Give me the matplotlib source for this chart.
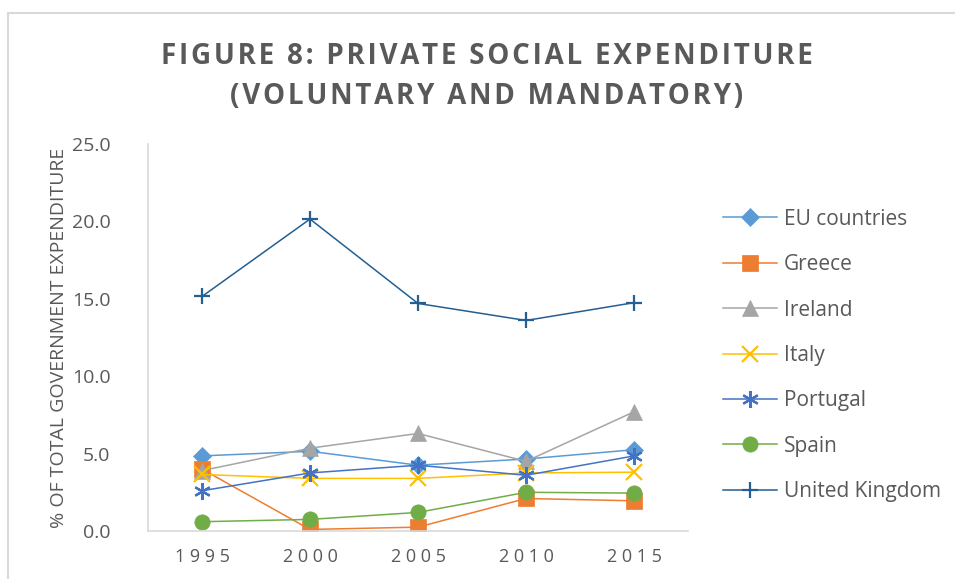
import numpy as np
import matplotlib
matplotlib.use('Agg')
import matplotlib.pyplot as plt
from matplotlib.patches import Rectangle

# data
years = ['1995', '2000', '2005', '2010', '2015']
eu = [4.85, 5.15, 4.25, 4.65, 5.25]
greece = [4.0, 0.1, 0.25, 2.1, 1.95]
ireland = [3.9, 5.35, 6.3, 4.5, 7.7]
italy = [3.65, 3.4, 3.4, 3.75, 3.8]
portugal = [2.6, 3.75, 4.25, 3.6, 4.85]
spain = [0.6, 0.75, 1.2, 2.5, 2.45]
uk = [15.15, 20.15, 14.7, 13.6, 14.75]

series = [
    ('EU countries', eu, '#5B9BD5', 'D', 9),
    ('Greece', greece, '#ED7D31', 's', 11),
    ('Ireland', ireland, '#A5A5A5', '^', 12),
    ('Italy', italy, '#FFC000', 'x', 11),
    ('Portugal', portugal, '#4472C4', (6, 2, 0), 12),
    ('Spain', spain, '#70AD47', 'o', 11),
    ('United Kingdom', uk, '#255E91', '+', 12),
]

txt = '#595959'
plt.rcParams['font.family'] = ['Open Sans', 'DejaVu Sans']


def spaced(s, sep='\u200a'):
    # fake letter tracking like the original's title
    return '\n'.join(sep.join(line) for line in s.split('\n'))


fig = plt.figure(figsize=(9.55, 5.79), dpi=100)
W, H = 955, 579
ax = fig.add_axes([148 / W, 1 - 531 / H, 540 / W, 387 / H])

x = np.arange(len(years))
for name, vals, col, mk, ms in series:
    ax.plot(x, vals, color=col, lw=1.1, marker=mk, markersize=ms,
            markeredgewidth=1.6 if mk in ('x', '+', (6, 2, 0)) else 0.5,
            markeredgecolor=col, markerfacecolor=col, label=name)

ax.set_xlim(-0.5, len(years) - 0.5)
ax.set_ylim(0, 25)
ax.set_yticks(np.arange(0, 25.1, 5))
ax.set_yticklabels(['%.1f' % v for v in np.arange(0, 25.1, 5)])
ax.set_xticks(x)
ax.set_xticklabels([' '.join(y) for y in years])
ax.tick_params(length=0, labelsize=13, colors=txt, pad=12)
ax.tick_params(axis='y', labelsize=14, pad=27)
for s in ['top', 'right']:
    ax.spines[s].set_visible(False)
for s in ['left', 'bottom']:
    ax.spines[s].set_color('#D9D9D9')
    ax.spines[s].set_linewidth(1.2)

ax.set_ylabel('% OF TOTAL GOVERNMENT EXPENDITURE', fontsize=14, color=txt, labelpad=3)

fig.text(487 / W, 1 - 76 / H, spaced('FIGURE 8: PRIVATE SOCIAL EXPENDITURE\n(VOLUNTARY AND MANDATORY)'),
         ha='center', va='center', fontsize=20, fontweight='bold', color=txt,
         linespacing=1.5)

leg = ax.legend(loc='upper left', bbox_to_anchor=((704 - 148) / 540, 1 - (190 - 144) / 387),
                frameon=False, fontsize=15, labelcolor=txt, handlelength=2.6,
                labelspacing=1.17, handletextpad=0.35)

fig.patches.append(Rectangle((8 / W, -0.1), 1.2, 1 - 13 / H + 0.1, transform=fig.transFigure,
                             fill=False, edgecolor='#D9D9D9', lw=1.5))

fig.savefig('out.png', dpi=100)
